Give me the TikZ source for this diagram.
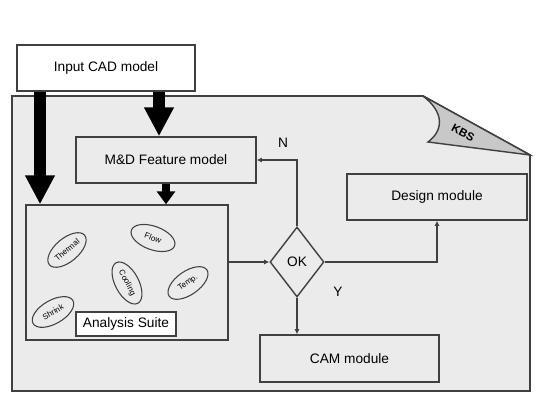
\documentclass[tikz,border=0pt]{standalone}
\usepackage{fontspec}
\setmainfont{Liberation Sans}
\usetikzlibrary{arrows.meta,shapes.geometric}
\definecolor{panelgray}{HTML}{EBEBEB}
\definecolor{flapgray}{HTML}{C8C8C8}
\definecolor{edgegray}{HTML}{404040}

\begin{document}
\begin{tikzpicture}[
      x=0.02cm, y=-0.02cm,
      font=\fontsize{7.8}{9}\selectfont,
      box/.style={draw=edgegray, line width=0.8pt, align=center, inner sep=0pt},
      blob/.style={draw=edgegray, ellipse, line width=0.6pt, inner sep=0pt,
                   minimum width=0.92cm, minimum height=0.47cm,
                   font=\fontsize{4.6}{5}\selectfont},
      big/.style={line width=0.26cm, -{Triangle[width=0.56cm,length=0.58cm]}},
      mid/.style={line width=0.16cm, -{Triangle[width=0.36cm,length=0.26cm]}},
      flow/.style={draw=edgegray, line width=0.7pt, -{Latex[length=3pt,width=3pt]}}
    ]
    \useasboundingbox (0,0) rectangle (538,401);

    % --- KBS panel with folded corner --------------------------------------
    \fill[panelgray, draw=edgegray, line width=1pt]
      (12,96) -- (423,96) -- (530,155) -- (530,391) -- (12,391) -- cycle;
    \fill[flapgray, draw=edgegray, line width=0.8pt]
      (423,96) .. controls (444,112) and (444,130) .. (428,142) -- (530,155) -- cycle;
    \node[rotate=-28, font=\fontsize{6.5}{7}\selectfont\bfseries] (kbs) at (463,133) {KBS};

    % --- boxes -------------------------------------------------------------
    \node[box, fill=white, minimum width=3.56cm, minimum height=0.92cm] (cad) at (106,68) {Input CAD model};
    \node[box, minimum width=3.6cm, minimum height=0.92cm] (mdf) at (166,160) {M\&D Feature model};
    \node[box, minimum width=4.04cm, minimum height=2.7cm] (ana) at (127,272.5) {};
    \node[box, fill=white, minimum width=2.0cm, minimum height=0.48cm] (suite) at (126,324) {Analysis Suite};
    \node[box, minimum width=3.6cm, minimum height=0.92cm] (des) at (437,197) {Design module};
    \node[box, minimum width=3.58cm, minimum height=0.94cm] (cam) at (349.5,358.5) {CAM module};
    \node[box, diamond, minimum width=1.08cm, minimum height=1.4cm] (ok) at (297,262) {OK};

    % --- analysis modules --------------------------------------------------
    \node[blob, rotate=40] (thermal) at (67,250) {Thermal};
    \node[blob, rotate=-20] (flowan) at (153,238) {Flow};
    \node[blob, rotate=-62] (cooling) at (127,283) {Cooling};
    \node[blob, rotate=35] (temp) at (188,283) {Temp.};
    \node[blob, rotate=30] (shrink) at (53,312) {Shrink};

    % --- model data (thick arrows) -----------------------------------------
    \draw[big] (cad.south -| 40,0) -- (ana.north -| 40,0);
    \draw[big] (cad.south -| 159,0) -- (mdf.north -| 159,0);
    \draw[mid] (mdf.south -| 166,0) -- (ana.north -| 166,0);

    % --- decision ----------------------------------------------------------
    \draw[flow] (ana.east |- ok.west) -- (ok.west);
    \draw[flow] (ok.north) |- (mdf.east);
    \draw[flow] (ok.east) -| (des.south);
    \draw[flow] (ok.south) -- (ok.south |- cam.north);
    \node (nlab) at (283,143) {N};
    \node (ylab) at (338,292) {Y};
  \end{tikzpicture}
\end{document}
